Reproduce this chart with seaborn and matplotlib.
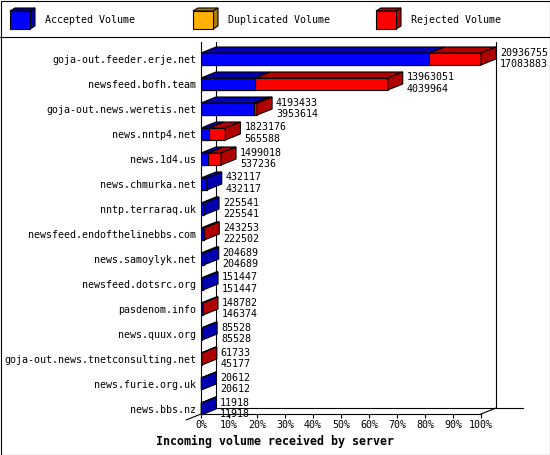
import matplotlib
matplotlib.use("Agg")
import matplotlib.pyplot as plt
from matplotlib.patches import Polygon, Rectangle
import seaborn as sns
import pandas as pd

# servers, sorted by accepted volume
servers = [
    "goja-out.feeder.erje.net",
    "newsfeed.bofh.team",
    "goja-out.news.weretis.net",
    "news.nntp4.net",
    "news.1d4.us",
    "news.chmurka.net",
    "nntp.terraraq.uk",
    "newsfeed.endofthelinebbs.com",
    "news.samoylyk.net",
    "newsfeed.dotsrc.org",
    "pasdenom.info",
    "news.quux.org",
    "goja-out.news.tnetconsulting.net",
    "news.furie.org.uk",
    "news.bbs.nz",
]
total_volume = [20936755, 13963051, 4193433, 1823176, 1499018, 432117, 225541,
                243253, 204689, 151447, 148782, 85528, 61733, 20612, 11918]
accepted_volume = [17083883, 4039964, 3953614, 565588, 537236, 432117, 225541,
                   222502, 204689, 151447, 146374, 85528, 45177, 20612, 11918]
duplicated_volume = [0] * 15

legend_labels = ["Accepted Volume", "Duplicated Volume", "Rejected Volume"]
x_ticks = list(range(0, 101, 10))

BLUE, BLUE_DK = "#0000ff", "#0000b0"
ORANGE, ORANGE_DK = "#ffb000", "#b07c00"
RED, RED_DK = "#ff0000", "#b00000"

sns.set_theme(style="white")
plt.rcParams["font.family"] = ["DejaVu Sans Mono", "DejaVu Sans"]

df = pd.DataFrame({"server": servers, "total": total_volume,
                   "accepted": accepted_volume, "duplicated": duplicated_volume})
peak = df["total"].max()
df["acc_pct"] = df["accepted"] / peak * 100
df["dup_pct"] = (df["accepted"] + df["duplicated"]) / peak * 100
df["tot_pct"] = df["total"] / peak * 100

W, H = 550, 455
fig = plt.figure(figsize=(W / 100, H / 100), dpi=100)

# frame, legend strip and title on a pixel-space layer
deco = fig.add_axes([0, 0, 1, 1], zorder=0)
deco.set_xlim(0, W)
deco.set_ylim(H, 0)
deco.axis("off")
deco.add_patch(Rectangle((0.5, 0.5), W - 1, H - 1, fill=False, ec="black", lw=0.8))
deco.plot([0, W], [36.5, 36.5], color="black", lw=0.8)

for (lab, fc, dk, bx) in zip(legend_labels, [BLUE, ORANGE, RED], [BLUE_DK, ORANGE_DK, RED_DK],
                             [10, 193, 376]):
    deco.add_patch(Polygon([(bx, 11), (bx + 20, 11), (bx + 25, 8), (bx + 5, 8)],
                           fc=dk, ec="black", lw=0.8))
    deco.add_patch(Polygon([(bx + 20, 11), (bx + 20, 29), (bx + 25, 26), (bx + 25, 8)],
                           fc=dk, ec="black", lw=0.8))
    deco.add_patch(Rectangle((bx, 11), 20, 18, fc=fc, ec="black", lw=0.8))
    deco.text(bx + 35, 20, lab, fontsize=7.2, va="center", ha="left", color="black")

deco.text(W / 2, 441, "Incoming volume received by server", fontsize=8.4,
          fontweight="bold", ha="center", va="center", color="black")

# main plot: the front plane of the 3d chart
ax = fig.add_axes([201 / W, (H - 414) / H, 280 / W, 372 / H], zorder=1)
ax.set_facecolor("none")

BAR_W = 0.48
YMAX, YMIN = 14.2, -0.68
DX = 15 / 2.8    # depth in x units
DY = 6 / 25      # depth in category units

for col, c in [("tot_pct", RED), ("dup_pct", ORANGE), ("acc_pct", BLUE)]:
    sns.barplot(data=df, x=col, y="server", orient="h", color=c, saturation=1,
                width=BAR_W, edgecolor="black", linewidth=0.8, errorbar=None, ax=ax)
for p in ax.patches:
    p.set_zorder(2)

ax.set_xlim(0, 100)
ax.set_ylim(YMAX, YMIN)

for i, row in df.iterrows():
    top, bot = i - BAR_W / 2, i + BAR_W / 2
    segs = [(0, row.acc_pct, BLUE_DK), (row.acc_pct, row.dup_pct, ORANGE_DK),
            (row.dup_pct, row.tot_pct, RED_DK)]
    last = BLUE_DK
    for a, b, c in segs:
        if b - a > 0:
            ax.add_patch(Polygon([(a, top), (b, top), (b + DX, top - DY), (a + DX, top - DY)],
                                 fc=c, ec="black", lw=0.8, clip_on=False, zorder=3))
            last = c
    x1 = row.tot_pct
    ax.add_patch(Polygon([(x1, top), (x1, bot), (x1 + DX, bot - DY), (x1 + DX, top - DY)],
                         fc=last, ec="black", lw=0.8, clip_on=False, zorder=3))
    ax.text(x1 + DX + 1.4, i - 0.26, f"{row.total}", fontsize=7.2, va="center",
            ha="left", color="black", zorder=4)
    ax.text(x1 + DX + 1.4, i + 0.2, f"{row.accepted}", fontsize=7.2, va="center",
            ha="left", color="black", zorder=4)

# back walls and floor, behind the bars
line_kw = dict(color="black", lw=0.8, clip_on=False, zorder=1)
ax.plot([DX, DX], [YMIN, YMAX - DY], **line_kw)
ax.plot([100 + DX, 100 + DX], [YMIN, YMAX - DY], **line_kw)
ax.plot([DX, (523 - 201) / 2.8], [YMAX - DY, YMAX - DY], **line_kw)
ax.plot([100, 100 + DX], [YMAX, YMAX - DY], **line_kw)
ax.plot([-DX, DX], [YMAX + DY, YMAX - DY], **line_kw)

ax.set_xticks(x_ticks)
ax.set_xticklabels([f"{t}%" for t in x_ticks])
ax.set_xlabel("")
ax.set_ylabel("")
ax.tick_params(axis="x", bottom=True, length=3, width=0.8, direction="out", pad=1.5,
               labelsize=7.2, colors="black")
ax.tick_params(axis="y", left=False, length=0, pad=3.6, labelsize=7.2, colors="black")
for side in ["top", "right"]:
    ax.spines[side].set_visible(False)
for side in ["left", "bottom"]:
    ax.spines[side].set_color("black")
    ax.spines[side].set_linewidth(0.8)

fig.savefig("out.png", dpi=100, facecolor="white")
